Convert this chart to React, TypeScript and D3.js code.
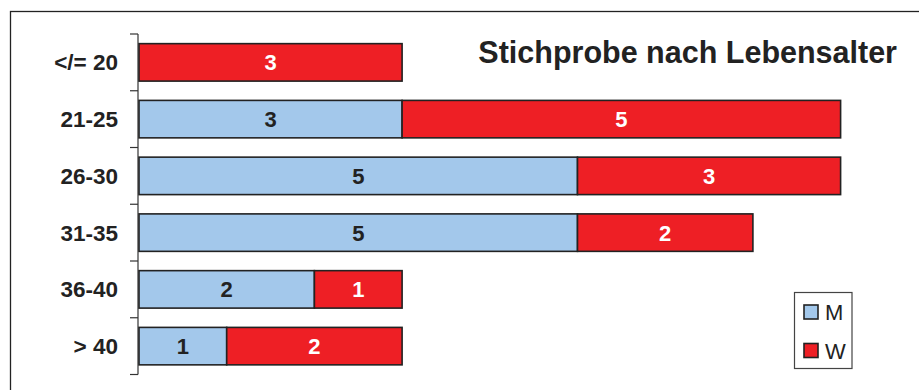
import React from "react";
import * as d3 from "d3";

const categories = ["</= 20", "21-25", "26-30", "31-35", "36-40", "> 40"];
const seriesM = [0, 3, 5, 5, 2, 1];
const seriesW = [3, 5, 3, 2, 1, 2];
const seriesNames = ["M", "W"];
const colors = ["#A3C8EB", "#EE1F25"];
const labelColors = ["#222222", "#FFFFFF"];
const title = "Stichprobe nach Lebensalter";

export default function App() {
  const W = 919, H = 390;
  const x = d3.scaleLinear().domain([0, 8]).range([139, 139 + 8 * 87.7]);
  const y = d3.scaleBand().domain(categories).range([34, 374.5]).paddingInner(0.34).paddingOuter(0.17);
  const rows = categories.map((c, i) => ({ cat: c, M: seriesM[i], W: seriesW[i] }));
  const stacked = d3.stack<any>().keys(seriesNames)(rows);
  const font = "Liberation Sans, Arial, sans-serif";
  const ticks = d3.range(categories.length + 1).map((i) => 34 + i * ((374.5 - 34) / categories.length));

  return (
    <svg width={W} height={H} style={{ position: "absolute", left: 0, top: 0, display: "block" }}>
      <rect x={0} y={0} width={W} height={H} fill="#fff" />
      <rect x={10.5} y={11.5} width={W + 20} height={H + 20} fill="none" stroke="#222" strokeWidth={1.3} />
      <text x={897} y={63} textAnchor="end" fontFamily={font} fontWeight="bold" fontSize={30.5} fill="#222">{title}</text>
      <line x1={138} x2={138} y1={ticks[0]} y2={ticks[ticks.length - 1]} stroke="#333" strokeWidth={1.2} />
      {ticks.map((t, i) => (
        <line key={i} x1={130} x2={138} y1={t} y2={t} stroke="#333" strokeWidth={1.2} />
      ))}
      {categories.map((c) => (
        <text key={c} x={118} y={(y(c) as number) + y.bandwidth() / 2 + 8} textAnchor="end" fontFamily={font} fontWeight="bold" fontSize={22.5} fill="#222">{c}</text>
      ))}
      {stacked.map((s, si) => (
        <g key={s.key}>
          {s.map((d, i) => {
            const v = d[1] - d[0];
            if (v <= 0) return null;
            const x0 = x(d[0]), x1 = x(d[1]);
            const yy = y(categories[i]) as number;
            return (
              <g key={i}>
                <rect x={x0} y={yy} width={x1 - x0} height={y.bandwidth()} fill={colors[si]} stroke="#222" strokeWidth={1.6} />
                <text x={(x0 + x1) / 2} y={yy + y.bandwidth() / 2 + 8} textAnchor="middle" fontFamily={font} fontWeight="bold" fontSize={22} fill={labelColors[si]}>{v}</text>
              </g>
            );
          })}
        </g>
      ))}
      <rect x={794.5} y={292.5} width={57.5} height={76} fill="#fff" stroke="#444" strokeWidth={1.2} />
      {seriesNames.map((n, i) => (
        <g key={n}>
          <rect x={804} y={305 + i * 38.5} width={14} height={14} fill={colors[i]} stroke="#222" strokeWidth={1.6} />
          <text x={825} y={320 + i * 38.5} fontFamily={font} fontSize={22} fill="#222">{n}</text>
        </g>
      ))}
    </svg>
  );
}
